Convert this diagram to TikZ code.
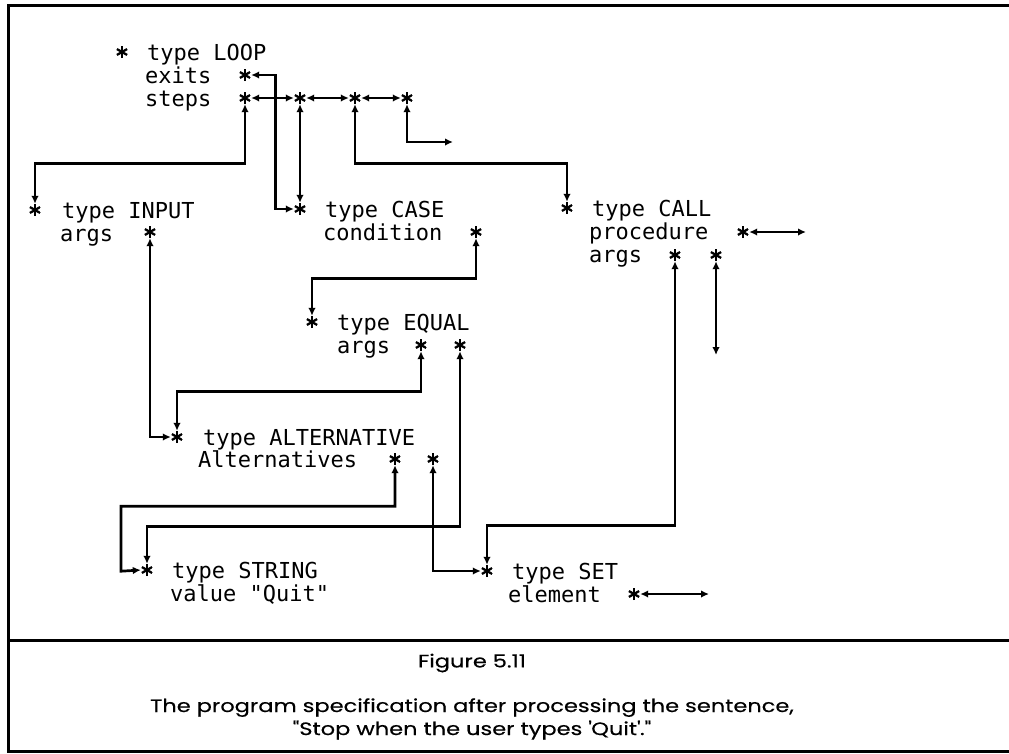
\documentclass[tikz,border=0pt]{standalone}
\usepackage{fontspec}
\newfontfamily\recfont{DejaVu Sans Mono}
\newfontfamily\capfont{Poppins}[FakeStretch=1.25,FakeBold=0.4]
\usetikzlibrary{arrows.meta}

\begin{document}
\begin{tikzpicture}[x=1pt,y=-1pt,
        ast/.style={circle,inner sep=0pt,minimum size=12pt,
                    path picture={\foreach \a in {90,30,150}
                      \draw[line width=2.3pt]
                        ([shift={(\a:6.5pt)}]path picture bounding box.center) --
                        ([shift={(\a+180:6.5pt)}]path picture bounding box.center);}},
        rec/.style={anchor=base west,inner sep=0pt,
                    font=\recfont\fontsize{22}{26}\selectfont},
        captxt/.style={inner sep=0pt,align=center,
                    font=\capfont\fontsize{18}{23}\selectfont},
        link/.style={line width=2.7pt,
                     {Latex[length=8pt,width=7.5pt]}-{Latex[length=8pt,width=7.5pt]}},
        frameline/.style={line width=3pt}]
        \useasboundingbox (0,0) rectangle (1009,753);
        \draw[frameline] (1009,5) -- (8,5) -- (8,751) -- (1009,751);
        \draw[frameline] (8,640) -- (1009,640);
        % LOOP
        \node[ast] (loop) at (122,52) {};
        \node[rec] (loopT) at (147,60) {type LOOP};
        \node[rec] (exitsT) at (145,83) {exits};
        \node[ast] (exits) at (245,75) {};
        \node[rec] (stepsT) at (145,106) {steps};
        \node[ast] (steps) at (245,98) {};
        \foreach \i/\x in {2/300,3/355,4/407}
          \node[ast] (step\i) at (\x,98) {};
        % INPUT
        \node[ast] (input) at (35,210) {};
        \node[rec] (inputT) at (62,218) {type INPUT};
        \node[rec] (inargsT) at (60,241) {args};
        \node[ast] (inargs) at (150,232) {};
        % CASE
        \node[ast] (case) at (300,209) {};
        \node[rec] (caseT) at (325,217) {type CASE};
        \node[rec] (condT) at (323,240) {condition};
        \node[ast] (cond) at (476,232) {};
        % CALL
        \node[ast] (call) at (567,208) {};
        \node[rec] (callT) at (592,216) {type CALL};
        \node[rec] (procT) at (589,239) {procedure};
        \node[ast] (proc) at (743,232) {};
        \node[rec] (cargsT) at (589,262) {args};
        \node[ast] (cargA) at (675,255) {};
        \node[ast] (cargB) at (716,255) {};
        % EQUAL
        \node[ast] (equal) at (312,322) {};
        \node[rec] (equalT) at (337,330) {type EQUAL};
        \node[rec] (eargsT) at (337,353) {args};
        \node[ast] (eargA) at (421,345) {};
        \node[ast] (eargB) at (460,345) {};
        % ALTERNATIVE
        \node[ast] (alt) at (177,437) {};
        \node[rec] (altT) at (203,445) {type ALTERNATIVE};
        \node[rec] (altsT) at (198,467) {Alternatives};
        \node[ast] (altA) at (395,459) {};
        \node[ast] (altB) at (433,459) {};
        % STRING
        \node[ast] (string) at (147,570) {};
        \node[rec] (stringT) at (172,578) {type STRING};
        \node[rec] (valueT) at (170,601) {value "Quit"};
        % SET
        \node[ast] (set) at (487,571) {};
        \node[rec] (setT) at (512,579) {type SET};
        \node[rec] (elemT) at (508,602) {element};
        \node[ast] (elem) at (634,594) {};
        % loose ends
        \coordinate (stepEnd) at (453,142);
        \coordinate (procEnd) at (806,232);
        \coordinate (cargEnd) at (716,355);
        \coordinate (elemEnd) at (709,594);
        % links
        \foreach \a/\b in {steps/step2,step2/step3,step3/step4}
          \draw[link] (\a.east) -- (\b.west);
        \draw[link] (exits.east) -- ++(24,0) |- (case.west);
        \draw[link] (steps.south) -- ++(0,59) -| (input.north);
        \draw[link] (step2.south) -- (case.north);
        \draw[link] (step3.south) -- ++(0,59) -| (call.north);
        \draw[link] (step4.south) |- (stepEnd);
        \draw[link] (cond.south) -- ++(0,40) -| (equal.north);
        \draw[link] (inargs.south) |- (alt.west);
        \draw[link] (eargA.south) -- ++(0,40) -| (alt.north);
        \draw[link] (eargB.south) -- ++(0,175) -| (string.north);
        \draw[link] (altA.south) -- ++(0,41) -| ++(-274,65) -- (string.west);
        \draw[link] (altB.south) |- (set.west);
        \draw[link] (cargA.south) -- ++(0,264) -| (set.north);
        \draw[link] (cargB.south) -- (cargEnd);
        \draw[link] (proc.east) -- (procEnd);
        \draw[link] (elem.east) -- (elemEnd);
        % caption
        \node[captxt] (figNo) at (472,663) {Figure 5.11};
        \node[captxt] (figText) at (472,719)
          {The program specification after processing the sentence,\\
           "Stop when the user types \textquotesingle Quit\textquotesingle."};
      \end{tikzpicture}
\end{document}
